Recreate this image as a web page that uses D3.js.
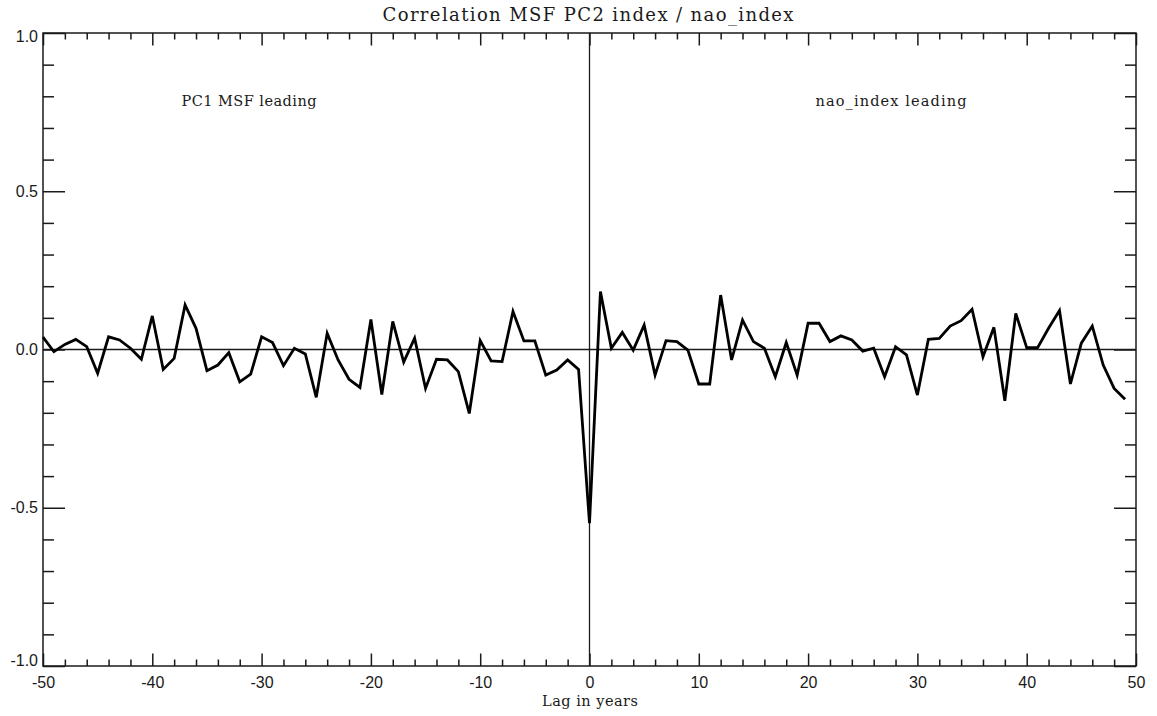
<!DOCTYPE html>
<html>
<head>
<meta charset="utf-8">
<script src="https://cdn.jsdelivr.net/npm/d3@7"></script>
<style>
  body { margin: 0; background: #fff; }
  svg { display: block; }
</style>
</head>
<body>
<svg width="1157" height="716"></svg>
<script>
// lag correlation, MSF PC2 vs nao_index
var lags = [-50,-49,-48,-47,-46,-45,-44,-43,-42,-41,-40,-39,-38,-37,-36,-35,-34,-33,-32,-31,
  -30,-29,-28,-27,-26,-25,-24,-23,-22,-21,-20,-19,-18,-17,-16,-15,-14,-13,-12,-11,
  -10,-9,-8,-7,-6,-5,-4,-3,-2,-1,0,1,2,3,4,5,6,7,8,9,
  10,11,12,13,14,15,16,17,18,19,20,21,22,23,24,25,26,27,28,29,
  30,31,32,33,34,35,36,37,38,39,40,41,42,43,44,45,46,47,48,49];
var corr = [0.039,-0.007,0.016,0.032,0.009,-0.075,0.040,0.030,0.004,-0.031,
  0.106,-0.063,-0.028,0.141,0.067,-0.067,-0.049,-0.010,-0.102,-0.078,
  0.040,0.022,-0.051,0.004,-0.014,-0.151,0.051,-0.033,-0.094,-0.120,
  0.095,-0.142,0.089,-0.040,0.036,-0.123,-0.031,-0.033,-0.070,-0.202,
  0.028,-0.036,-0.038,0.120,0.027,0.027,-0.081,-0.065,-0.033,-0.063,
  -0.549,0.183,0.004,0.054,-0.002,0.077,-0.081,0.028,0.025,-0.002,
  -0.109,-0.109,0.172,-0.033,0.093,0.025,0.004,-0.086,0.022,-0.081,
  0.083,0.083,0.025,0.043,0.030,-0.005,0.004,-0.086,0.009,-0.017,
  -0.144,0.032,0.035,0.074,0.091,0.127,-0.023,0.070,-0.162,0.114,
  0.006,0.006,0.067,0.123,-0.109,0.020,0.074,-0.049,-0.123,-0.157];
var xTicks = [-50,-40,-30,-20,-10,0,10,20,30,40,50];
var yTicks = [-1.0,-0.5,0.0,0.5,1.0];
var titleText = "Correlation MSF PC2 index / nao_index";
var leftNote = "PC1 MSF leading";
var rightNote = "nao_index leading";
var xLabel = "Lag in years";

var mLeft = 43, mRight = 1136, mTop = 33, mBottom = 666;
var w = mRight - mLeft, h = mBottom - mTop;
var ink = "#1a1a1a";

var xs = d3.scaleLinear().domain([-50,50]).range([0,w]);
var ys = d3.scaleLinear().domain([-1,1]).range([h,0]);

var svg = d3.select("svg");
var gee = svg.append("g").attr("transform","translate("+mLeft+","+mTop+")");

var xMinor = d3.range(-50,51,2).filter(function(v){return v%10!==0;});
var yMinor = d3.range(-10,11,1).filter(function(v){return v%5!==0;}).map(function(v){return v/10;});

function styleAxis(g){
  g.select(".domain").remove();
  g.selectAll("line").attr("stroke",ink).attr("stroke-width",1.5);
  g.selectAll("text").attr("fill",ink).attr("font-family","'Liberation Sans', Arial, sans-serif").attr("font-size",16);
}

// bottom axis: major with labels, minor without
gee.append("g").attr("transform","translate(0,"+h+")")
  .call(d3.axisBottom(xs).tickValues(xTicks).tickSizeInner(-12.5).tickSizeOuter(0).tickPadding(0)
    .tickFormat(function(d){return String(d)}))
  .call(styleAxis)
  .selectAll("text").attr("dy","1.35em");
gee.append("g").attr("transform","translate(0,"+h+")")
  .call(d3.axisBottom(xs).tickValues(xMinor).tickSizeInner(-6.5).tickSizeOuter(0).tickFormat(""))
  .call(styleAxis);
// top axis
gee.append("g")
  .call(d3.axisTop(xs).tickValues(xTicks).tickSizeInner(-12.5).tickSizeOuter(0).tickFormat(""))
  .call(styleAxis);
gee.append("g")
  .call(d3.axisTop(xs).tickValues(xMinor).tickSizeInner(-6.5).tickSizeOuter(0).tickFormat(""))
  .call(styleAxis);
// left axis
gee.append("g")
  .call(d3.axisLeft(ys).tickValues(yTicks).tickSizeInner(-22).tickSizeOuter(0).tickPadding(5)
    .tickFormat(function(d){return d.toFixed(1)}))
  .call(styleAxis)
  .selectAll("text").attr("dy",function(d){return d===1 ? "0.55em" : (d===-1 ? "-0.05em" : "0.32em")});
gee.append("g")
  .call(d3.axisLeft(ys).tickValues(yMinor).tickSizeInner(-11).tickSizeOuter(0).tickFormat(""))
  .call(styleAxis);
// right axis
gee.append("g").attr("transform","translate("+w+",0)")
  .call(d3.axisRight(ys).tickValues(yTicks).tickSizeInner(-22).tickSizeOuter(0).tickFormat(""))
  .call(styleAxis);
gee.append("g").attr("transform","translate("+w+",0)")
  .call(d3.axisRight(ys).tickValues(yMinor).tickSizeInner(-11).tickSizeOuter(0).tickFormat(""))
  .call(styleAxis);

// frame
gee.append("rect").attr("x",0).attr("y",0).attr("width",w).attr("height",h)
  .attr("fill","none").attr("stroke",ink).attr("stroke-width",1.5);

// zero lines
gee.append("line").attr("x1",0).attr("x2",w).attr("y1",ys(0)).attr("y2",ys(0))
  .attr("stroke",ink).attr("stroke-width",1.3);
gee.append("line").attr("x1",xs(0)).attr("x2",xs(0)).attr("y1",0).attr("y2",h)
  .attr("stroke",ink).attr("stroke-width",1.3);

// data line
var line = d3.line().x(function(d,i){return xs(lags[i])}).y(function(d){return ys(d)});
gee.append("path").datum(corr).attr("d",line)
  .attr("fill","none").attr("stroke","#000").attr("stroke-width",2.8).attr("stroke-linejoin","miter");

var serif = "'DejaVu Serif', serif";
svg.append("text").attr("x",588).attr("y",21).attr("text-anchor","middle")
  .attr("font-family",serif).attr("font-size",18).attr("fill",ink)
  .attr("textLength",411).text(titleText);
svg.append("text").attr("x",249).attr("y",106).attr("text-anchor","middle")
  .attr("font-family",serif).attr("font-size",14.5).attr("fill",ink)
  .attr("textLength",135).text(leftNote);
svg.append("text").attr("x",891).attr("y",106).attr("text-anchor","middle")
  .attr("font-family",serif).attr("font-size",14.5).attr("fill",ink)
  .attr("textLength",151).text(rightNote);
svg.append("text").attr("x",590).attr("y",706).attr("text-anchor","middle")
  .attr("font-family",serif).attr("font-size",14.5).attr("fill",ink)
  .attr("textLength",96).text(xLabel);
</script>
</body>
</html>
